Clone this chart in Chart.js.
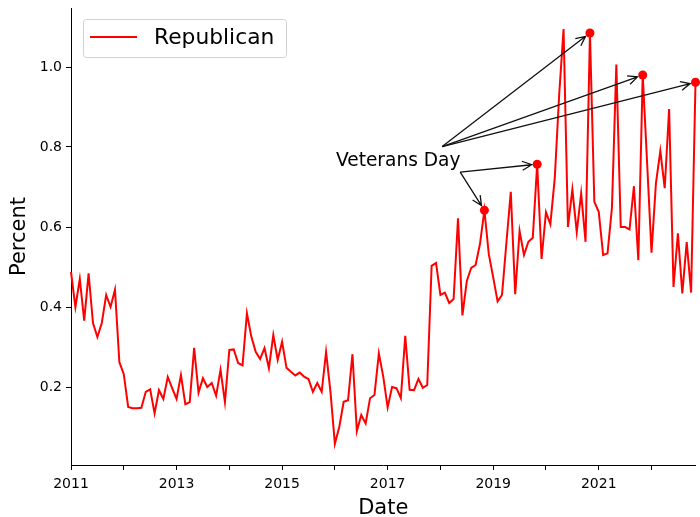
<!DOCTYPE html>
<html>
<head>
<meta charset="utf-8">
<script src="https://cdn.jsdelivr.net/npm/chart.js@4.4.0/dist/chart.umd.min.js"></script>
<style>
  html, body { margin: 0; padding: 0; background: #fff; }
  #wrap { width: 700px; height: 517px; }
</style>
</head>
<body>
<div id="wrap"><canvas id="chart" width="700" height="517"></canvas></div>
<script>
// monthly share, Jan 2011 .. Nov 2022
const startYear = 2011;
const republican = [
  0.488, 0.400, 0.470, 0.366, 0.484, 0.360, 0.325, 0.360, 0.430, 0.400, 0.443, 0.262,
  0.232, 0.150, 0.147, 0.147, 0.148, 0.188, 0.194, 0.134, 0.192, 0.170, 0.225, 0.197,
  0.170, 0.230, 0.157, 0.162, 0.298, 0.186, 0.222, 0.200, 0.210, 0.178, 0.243, 0.162,
  0.293, 0.294, 0.260, 0.254, 0.384, 0.326, 0.288, 0.270, 0.297, 0.247, 0.330, 0.268,
  0.313, 0.248, 0.238, 0.229, 0.236, 0.226, 0.220, 0.188, 0.210, 0.188, 0.288, 0.188,
  0.058, 0.100, 0.163, 0.167, 0.282, 0.090, 0.130, 0.109, 0.172, 0.180, 0.284, 0.226,
  0.149, 0.200, 0.197, 0.172, 0.328, 0.193, 0.192, 0.220, 0.198, 0.205, 0.503, 0.510,
  0.430, 0.436, 0.410, 0.420, 0.622, 0.379, 0.465, 0.498, 0.505, 0.558, 0.642, 0.532,
  0.474, 0.414, 0.430, 0.560, 0.688, 0.432, 0.590, 0.530, 0.563, 0.573, 0.757, 0.520,
  0.637, 0.607, 0.722, 0.930, 1.095, 0.600, 0.694, 0.587, 0.684, 0.563, 1.085, 0.663,
  0.638, 0.530, 0.534, 0.648, 1.006, 0.600, 0.600, 0.594, 0.702, 0.517, 0.980, 0.760,
  0.536, 0.709, 0.790, 0.697, 0.895, 0.450, 0.584, 0.434, 0.562, 0.436, 0.962
];

const yearTicks = [2011, 2012, 2013, 2014, 2015, 2016, 2017, 2018, 2019, 2020, 2021, 2022];
const yearLabels = ['2011', '2013', '2015', '2017', '2019', '2021'];
const percentTicks = [0.2, 0.4, 0.6, 0.8, 1.0];

const noteText = 'Veterans Day';
const noteAt = [2017.2, 0.766];
const veteransDays = ['2018-11', '2019-11', '2020-11', '2021-11', '2022-11'];

const monthIndex = (s) => {
  const [y, m] = s.split('-').map(Number);
  return (y - startYear) * 12 + (m - 1);
};
const noteIdx = veteransDays.map(monthIndex);

const points = republican.map((v, i) => ({ x: startYear + i / 12, y: v }));

Chart.defaults.font.family = '"DejaVu Sans", sans-serif';
Chart.defaults.color = '#000';

// arrows + label pointing at the November values
const notePlugin = {
  id: 'vetNotes',
  afterDatasetsDraw(chart) {
    const { ctx, scales: { x, y } } = chart;
    const tx = x.getPixelForValue(noteAt[0]);
    const ty = y.getPixelForValue(noteAt[1]);
    ctx.save();
    ctx.font = '18.6px "DejaVu Sans"';
    ctx.fillStyle = '#000';
    ctx.textAlign = 'center';
    ctx.textBaseline = 'middle';
    ctx.fillText(noteText, tx, ty + 1);

    ctx.strokeStyle = '#111';
    ctx.lineWidth = 1.3;
    noteIdx.forEach((i) => {
      const p = points[i];
      const px = x.getPixelForValue(p.x);
      const py = y.getPixelForValue(p.y);
      // upper targets leave from the top edge, lower ones from the bottom corner
      const sx = py < ty - 40 ? tx + 44 : tx + 62;
      const sy = py < ty - 40 ? ty - 14 : ty + 11.5;
      const dx = px - sx, dy = py - sy;
      const len = Math.hypot(dx, dy);
      const ux = dx / len, uy = dy / len;
      const ex = px - ux * 5.5, ey = py - uy * 5.5;
      ctx.beginPath();
      ctx.moveTo(sx, sy);
      ctx.lineTo(ex, ey);
      // open arrow head
      const hl = 9.5, hw = 4.5;
      ctx.moveTo(ex - ux * hl - uy * hw, ey - uy * hl + ux * hw);
      ctx.lineTo(ex, ey);
      ctx.lineTo(ex - ux * hl + uy * hw, ey - uy * hl - ux * hw);
      ctx.stroke();
    });
    ctx.restore();
  }
};

// framed legend in the upper left corner
const legendPlugin = {
  id: 'boxLegend',
  afterDraw(chart) {
    const { ctx, chartArea } = chart;
    const bx = chartArea.left + 12, by = chartArea.top + 11, bw = 203, bh = 38;
    ctx.save();
    ctx.fillStyle = 'rgba(255,255,255,0.8)';
    ctx.strokeStyle = 'rgba(204,204,204,0.9)';
    ctx.lineWidth = 1;
    ctx.beginPath();
    ctx.roundRect(bx + 0.5, by + 0.5, bw, bh, 3);
    ctx.fill();
    ctx.stroke();
    ctx.strokeStyle = 'red';
    ctx.lineWidth = 2;
    ctx.beginPath();
    ctx.moveTo(bx + 7, by + 18);
    ctx.lineTo(bx + 54, by + 18);
    ctx.stroke();
    ctx.fillStyle = '#000';
    ctx.font = '21.8px "DejaVu Sans"';
    ctx.textBaseline = 'middle';
    ctx.fillText(chart.data.datasets[0].label, bx + 71, by + 19);
    ctx.restore();
  }
};

new Chart(document.getElementById('chart'), {
  type: 'line',
  data: {
    datasets: [{
      label: 'Republican',
      data: points,
      borderColor: 'red',
      backgroundColor: 'red',
      borderWidth: 2,
      tension: 0,
      clip: false,
      pointRadius: (c) => noteIdx.includes(c.dataIndex) ? 4.5 : 0,
      pointHoverRadius: 0,
      pointBorderWidth: 0
    }]
  },
  options: {
    responsive: false,
    animation: false,
    events: [],
    layout: { padding: { top: 8, right: 0, left: 0, bottom: 0 } },
    plugins: {
      legend: { display: false },
      tooltip: { enabled: false }
    },
    scales: {
      x: {
        type: 'linear',
        min: startYear,
        max: startYear + (republican.length - 1) / 12,
        afterBuildTicks: (s) => { s.ticks = yearTicks.map(v => ({ value: v })); },
        afterFit: (s) => { s.height = 52; s.paddingLeft = 0; s.paddingRight = 0; },
        ticks: {
          autoSkip: false,
          maxRotation: 0,
          padding: 6,
          font: { size: 14 },
          callback: (v) => yearLabels.includes(String(v)) ? String(v) : ''
        },
        grid: { drawOnChartArea: false, tickLength: 5, tickColor: '#000', tickWidth: 1 },
        border: { display: true, color: '#000', width: 1 },
        title: {
          display: true,
          text: 'Date',
          font: { size: 21, lineHeight: 1 },
          padding: { top: 0, bottom: -2 }
        }
      },
      y: {
        min: 0.005,
        max: 1.1475,
        afterBuildTicks: (s) => { s.ticks = percentTicks.map(v => ({ value: v })); },
        afterFit: (s) => { s.width = 71; s.paddingTop = 0; s.paddingBottom = 0; },
        ticks: {
          padding: 4,
          font: { size: 14 },
          callback: (v) => Number(v).toFixed(1)
        },
        grid: { drawOnChartArea: false, tickLength: 5, tickColor: '#000', tickWidth: 1 },
        border: { display: true, color: '#000', width: 1 },
        title: {
          display: true,
          text: 'Percent',
          font: { size: 21, lineHeight: 1 },
          padding: { top: 9, bottom: 0 }
        }
      }
    }
  },
  plugins: [notePlugin, legendPlugin]
});
</script>
</body>
</html>
